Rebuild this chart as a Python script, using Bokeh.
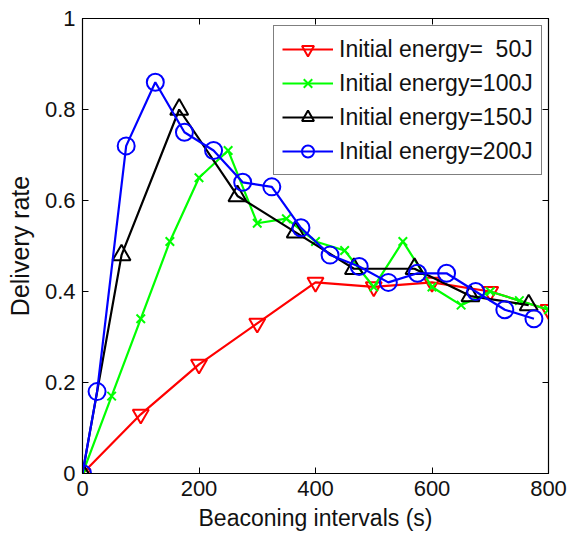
from bokeh.plotting import figure
from bokeh.models import LinearAxis, Legend, FixedTicker, Range1d
from bokeh.embed import file_html
from bokeh.resources import INLINE

# Delivery rate vs beaconing interval for four initial energies
x_50 = [0, 100, 200, 300, 400, 500, 600, 700, 800]
y_50 = [0, 0.13, 0.24, 0.33, 0.42, 0.41, 0.42, 0.40, 0.36]

x_100 = [0, 50, 100, 150, 200, 250, 300, 350, 400, 450, 500, 550, 600, 650, 700, 750, 800]
y_100 = [0, 0.17, 0.34, 0.51, 0.65, 0.71, 0.55, 0.56, 0.51, 0.49, 0.41, 0.51, 0.41, 0.37, 0.40, 0.38, 0.36]

x_150 = [0, 67, 166, 266, 366, 466, 570, 666, 766]
y_150 = [0, 0.48, 0.80, 0.61, 0.53, 0.45, 0.45, 0.39, 0.37]

x_200 = [0, 25, 75, 125, 175, 225, 275, 325, 375, 425, 475, 525, 575, 625, 675, 725, 775]
y_200 = [0, 0.18, 0.72, 0.86, 0.75, 0.71, 0.64, 0.63, 0.54, 0.48, 0.455, 0.42, 0.44, 0.44, 0.40, 0.36, 0.34]

labels = ["Initial energy=\u00a0\u00a050J", "Initial energy=100J",
          "Initial energy=150J", "Initial energy=200J"]
x_ticks = [0, 200, 400, 600, 800]
y_ticks = [0, 0.2, 0.4, 0.6, 0.8, 1.0]

FONT = "Liberation Sans"
TXT = "#111111"

p = figure(width=570, height=544, output_backend="svg", toolbar_location=None,
           x_range=Range1d(0, 800), y_range=Range1d(0, 1),
           x_axis_location=None, y_axis_location=None,
           min_border_left=82, min_border_right=22, min_border_top=18, min_border_bottom=71)
p.frame_width = 466
p.frame_height = 455
p.grid.visible = False
p.outline_line_color = "black"
p.outline_line_width = 1.2
p.background_fill_color = "white"
p.border_fill_color = "white"


def make_axis(ticks, show_labels):
    ax = LinearAxis(ticker=FixedTicker(ticks=ticks))
    ax.major_tick_in = 6
    ax.major_tick_out = 0
    ax.minor_tick_line_color = None
    ax.axis_line_color = "black"
    ax.major_tick_line_color = "black"
    ax.major_label_text_font = FONT
    ax.major_label_text_color = TXT
    ax.axis_label_text_font = FONT
    ax.axis_label_text_font_style = "normal"
    ax.axis_label_text_color = TXT
    if show_labels:
        ax.major_label_text_font_size = "22px"
        ax.major_label_standoff = 7
    else:
        # mirrored tick marks only, no numbers
        ax.major_label_overrides = {t: "" for t in ticks}
        ax.major_label_text_font_size = "1px"
        ax.major_label_standoff = 0
    return ax


bottom = make_axis(x_ticks, True)
bottom.major_label_overrides = {0: "0", 200: "200", 400: "400", 600: "600", 800: "800"}
bottom.axis_label = "Beaconing intervals (s)"
bottom.axis_label_text_font_size = "23px"
bottom.axis_label_standoff = 6
p.add_layout(bottom, "below")

left = make_axis(y_ticks, True)
left.major_label_overrides = {0: "0", 0.2: "0.2", 0.4: "0.4", 0.6: "0.6", 0.8: "0.8", 1.0: "1"}
left.axis_label = "Delivery rate"
left.axis_label_text_font_size = "25px"
left.axis_label_standoff = 8
p.add_layout(left, "left")

p.add_layout(make_axis(x_ticks, False), "above")
p.add_layout(make_axis(y_ticks, False), "right")

series = [
    (x_50, y_50, "#ff0000", "inverted_triangle", 16),
    (x_100, y_100, "#00ff00", "x", 12),
    (x_150, y_150, "#000000", "triangle", 18),
    (x_200, y_200, "#0000ff", "circle", 17),
]

items = []
for (xs, ys, color, marker, size), lab in zip(series, labels):
    ln = p.line(xs, ys, line_color=color, line_width=2.2)
    sc = p.scatter(xs, ys, marker=marker, size=size, line_color=color,
                   fill_color=None, line_width=2)
    items.append((lab, [ln, sc]))

legend = Legend(items=items, location=(191, 298))
legend.border_line_color = "black"
legend.border_line_width = 1.2
legend.background_fill_color = "white"
legend.background_fill_alpha = 1
legend.label_text_font = FONT
legend.label_text_font_size = "23px"
legend.label_text_color = TXT
legend.glyph_width = 51
legend.glyph_height = 30
legend.label_height = 30
legend.label_standoff = 6
legend.spacing = 4
legend.padding = 8
legend.margin = 0
p.add_layout(legend, "center")

open("out.html", "w").write(file_html(p, INLINE))
